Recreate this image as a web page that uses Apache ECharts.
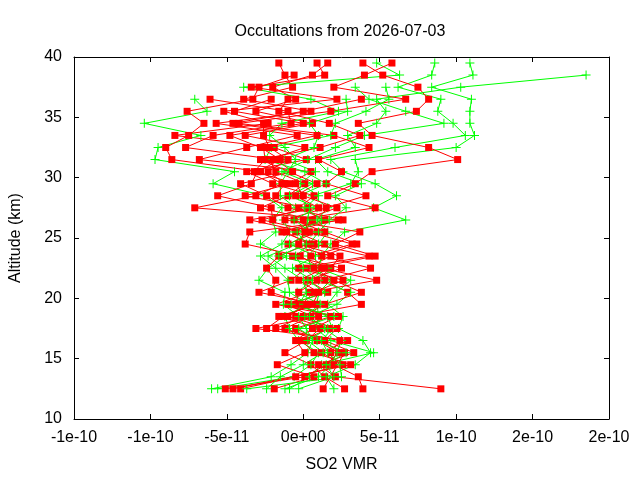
<!DOCTYPE html>
<html>
<head>
<meta charset="utf-8">
<title>Occultations from 2026-07-03</title>
<script src="https://cdn.jsdelivr.net/npm/echarts@6/dist/echarts.min.js"></script>
<style>
  html, body { margin: 0; padding: 0; background: #fff; }
  #chart { width: 640px; height: 480px; }
</style>
</head>
<body>
<div id="chart"></div>
<script>
// SO2 VMR profiles, values in units of 1e-11, one entry per altitude (null = no point)
const altitudes = [12.5, 13.5, 14.5, 15.5, 16.5, 17.5, 18.5, 19.5, 20.5, 21.5, 22.5, 23.5, 24.5, 25.5,
  26.5, 27.5, 28.5, 29.5, 30.5, 31.5, 32.5, 33.5, 34.5, 35.5, 36.5, 37.5, 38.5, 39.5];

const xTickLabels = ['-1e-10', '-1e-10', '-5e-11', '0e+00', '5e-11', '1e-10', '2e-10', '2e-10'];

// red squares
const red1 = [-5.1, 0.1, 1.5, 2.3, 0.9, -1.2, 0.5, -1.0, 1.6, 0.3, 2.5, -0.7, 1.4, -0.5, 0.6, -2.8, -1.0, 0.1, -1.8, -2.2, 0.1, -3.8, 0.6, -3.1, -0.5, -2.0, 0.6, 1.6];
const red2 = [2.7, 1.4, 0.5, -1.2, 0.2, 1.1, -1.6, 0.9, -2.9, -0.8, 0.2, 1.8, -1.0, 0.9, -2.7, 0.3, -3.8, -0.9, 0.5, -6.8, -3.7, -0.4, -5.7, 0.5, -3.9, -0.7, -1.2, -1.6];
const red3 = [-4.1, -0.5, 2.6, 1.2, 2.9, -3.1, 1.0, -0.1, 0.7, 2.6, -0.3, 4.3, 0.7, -1.4, 1.4, -0.3, 0.7, -2.0, -3.7, 0.2, -1.9, -8.4, -2.3, -5.2, 2.2, -3.4, 1.4, 0.9];
const red4 = [9.0, 2.1, 1.0, 3.3, 1.4, 2.2, -0.5, 3.8, 2.9, 1.4, 4.4, 1.2, 3.5, 1.4, -0.6, 4.7, 1.6, 3.4, 4.5, 10.1, 8.2, 4.5, 3.6, 7.4, 8.2, 7.5, 5.2, 3.9];
const red5 = [-1.9, 0.7, -1.7, 0.1, -0.5, 0.6, 2.3, -1.8, 0.4, 4.8, 1.2, -0.2, -3.8, -3.5, 2.6, -1.0, -2.4, -4.1, -0.7, -1.8, -7.7, -5.9, -0.8, -1.0, -6.1, null, null, null];
const red6 = [3.9, 3.6, 2.0, 1.8, 2.4, -1.8, 0, 1.4, 3.8, 2.0, 0.7, 4.7, 2.1, 3.7, -1.2, 1.5, 4.1, 1.5, 2.5, 1.0, 4.3, 2.0, -4.2, 1.8, 6.7, 2.0, 4.0, 5.8];
const red7 = [-4.6, null, 3.1, 0.7, -0.1, 1.7, -1.0, 0.3, -2.1, -1.8, -2.4, -1.6, 0.3, -1.1, 2.3, -7.1, -3.1, -1.4, -2.8, -8.6, -9.0, -7.5, -6.5, -7.6, -3.3, -2.9, -0.6, null];
const red8 = [1.3, null, null, 2.7, null, -0.5, 1.8, -0.5, -0.3, 0.9, 1.8, 2.4, -0.3, 0.1, -3.5, 1.0, -0.5, 0.9, null, -2.8, 1.1, 3.7, 1.7, -1.6, -1.0, null, null, null];
const red9 = [null, null, null, null, null, -2.4, -1.3, 0.6, 1.0, -0.3, 1.4, 0.5, 3.2, 0.4, 0, 2.2, 0, -0.5, -3.2, -2.5, -2.6, 0.9, -4.6, 0, 3.8, null, null, null];
const red10 = [null, null, null, null, null, null, null, null, null, null, null, null, null, null, -2.0, -2.1, -5.6, -3.4, -3.0, -1.5, -2.8, -4.8, 0, -4.5, -2.1, null, null, null];
const red11 = [null, null, null, null, null, null, null, null, null, null, null, null, null, null, null, null, -1.8, -1.2, -2.3, -1.0, -2.2, -2.6, -2.6, null, null, null, null, null];

// green crosses
const green1 = [-0.9, 0.4, 1.2, 4.6, 1.8, 0.8, 1.0, 0.9, 1.0, 1.8, 0.5, 0.3, 1.0, 1.6, 0.9, 1.6, 0.6, 3.1, 3.6, 3.4, 10.0, 11.2, 10.9, 10.9, 11.0, 8.4, 11.1, 10.9];
const green2 = [-5.6, -0.6, 0.5, 1.0, -0.3, -0.9, -1.2, 0.3, -0.9, -1.0, -1.8, -2.8, -1.4, -0.9, -1.3, -0.5, -1.5, -1.5, -1.0, -0.5, -1.2, -2.2, -1.4, 2.3, 0.5, -3.9, 6.3, 4.8];
const green3 = [2.0, 1.5, 3.4, 4.4, 3.9, 2.3, 2.6, 1.6, 2.2, 3.1, 1.0, 1.2, 1.8, 2.7, 6.7, 4.6, 6.1, 4.7, 2.6, 1.8, 6.0, 10.6, 9.8, 8.8, 9.0, 6.2, 8.4, 8.6];
const green4 = [-6.0, -2.1, -0.8, 0.3, 0.6, 0.2, -0.3, -1.3, -1.2, -2.9, -2.3, -1.1, -2.8, -1.8, -2.0, -1.4, -2.5, -5.9, -4.5, -9.7, -9.5, -6.7, -10.4, -6.3, -7.1, null, null, null];
const green5 = [-1.2, 1.0, 1.8, 2.2, 2.5, 1.4, 0.4, 2.2, 3.1, 1.0, 0, -0.5, 0.4, 1.0, 1.7, 2.8, 2.1, 3.8, 1.6, 0.8, 3.4, 2.9, 4.8, 5.4, 4.8, 10.3, 18.5, null];
const green6 = [-3.7, 2.5, 2.4, 1.6, 1.2, 1.9, 1.6, -0.3, 0.2, 0, -1.2, -2.3, -0.4, 0.1, 0.3, 0.4, -0.3, 1.5, 0.1, -2.5, -2.1, 1.8, 2.1, 4.1, 5.6, 5.4, null, null];
const green7 = [-2.4, -1.5, 0.0, 1.3, 0.3, 1.6, 0.1, 1.1, -0.4, 0.6, -0.7, 0.8, -0.9, 0.5, -0.6, 0.9, -0.9, 0.6, -1.4, 0.3, 2.1, 4.0, 9.2, 6.7, 4.3, 3.4, null, null];
const green8 = [-0.3, 2.0, 1.5, 2.8, 0.9, -0.3, 2.0, -0.8, 1.4, 0.3, 1.6, -1.6, 0.2, -0.4, 1.2, 0.1, 1.0, -0.2, 0.8, -1.2, 0.7, 1.0, 0.4, 2.9, 2.8, null, null, null];

const redProfiles = [red1, red2, red3, red4, red5, red6, red7, red8, red9, red10, red11];
const greenProfiles = [green1, green2, green3, green4, green5, green6, green7, green8];

const PLUS = 'path://M0,4H9V5H0Z M4,0H5V9H4Z';
const FONT = 'Liberation Sans';

function toPoints(values) {
  return altitudes
    .map((a, i) => (values[i] == null ? null : [values[i], a]))
    .filter(p => p);
}

function redSeries(values) {
  return {
    type: 'line',
    data: toPoints(values),
    symbol: 'rect',
    symbolSize: 7,
    itemStyle: { color: '#ff0000' },
    lineStyle: { color: '#ff0000', width: 1 },
    silent: true
  };
}

function greenSeries(values) {
  return {
    type: 'line',
    data: toPoints(values),
    symbol: PLUS,
    symbolSize: 9,
    itemStyle: { color: '#00ff00' },
    lineStyle: { color: '#00ff00', width: 1 },
    silent: true
  };
}

// interleave the two kinds like the original plot
let series = [];
for (let i = 0; i < redProfiles.length; i++) {
  series.push(redSeries(redProfiles[i]));
  if (greenProfiles[i]) series.push(greenSeries(greenProfiles[i]));
}

const axisLine = { show: true, onZero: false, lineStyle: { color: '#000', width: 1 } };
const tick = { show: true, inside: true, length: 5, lineStyle: { color: '#000' } };

const chart = echarts.init(document.getElementById('chart'), null, { renderer: 'canvas' });

chart.setOption({
  animation: false,
  backgroundColor: '#fff',
  title: {
    text: 'Occultations from 2026-07-03',
    left: 335,
    textAlign: 'center',
    top: 19,
    textStyle: { fontFamily: FONT, fontSize: 16, fontWeight: 'normal', color: '#000' }
  },
  grid: { left: 74, right: 31, top: 57, bottom: 61 },
  xAxis: [{
    type: 'value',
    min: -15,
    max: 20,
    interval: 5,
    position: 'bottom',
    axisLine: axisLine,
    axisTick: tick,
    splitLine: { show: false },
    axisLabel: {
      margin: 11,
      fontFamily: FONT,
      fontSize: 16,
      color: '#000',
      showMinLabel: true,
      showMaxLabel: true,
      formatter: v => xTickLabels[Math.round((v + 15) / 5)]
    },
    name: 'SO2 VMR',
    nameLocation: 'middle',
    nameGap: 38,
    nameTextStyle: { fontFamily: FONT, fontSize: 16, color: '#000' }
  }, {
    type: 'value',
    min: -15,
    max: 20,
    interval: 5,
    position: 'top',
    axisLine: axisLine,
    axisTick: tick,
    splitLine: { show: false },
    axisLabel: { show: false }
  }],
  yAxis: [{
    type: 'value',
    min: 10,
    max: 40,
    interval: 5,
    position: 'left',
    axisLine: axisLine,
    axisTick: tick,
    splitLine: { show: false },
    axisLabel: { margin: 12, fontFamily: FONT, fontSize: 16, color: '#000' },
    name: 'Altitude (km)',
    nameLocation: 'middle',
    nameGap: 50,
    nameRotate: 90,
    nameTextStyle: { fontFamily: FONT, fontSize: 16, color: '#000' }
  }, {
    type: 'value',
    min: 10,
    max: 40,
    interval: 5,
    position: 'right',
    axisLine: axisLine,
    axisTick: tick,
    splitLine: { show: false },
    axisLabel: { show: false }
  }],
  series: series
});
</script>
</body>
</html>
